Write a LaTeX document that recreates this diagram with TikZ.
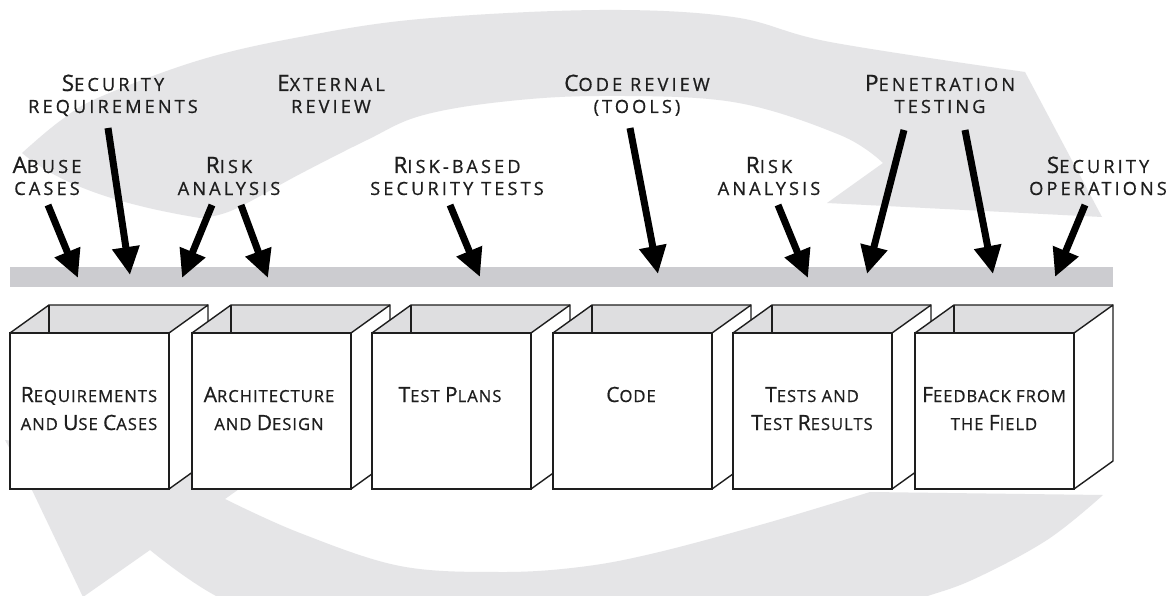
\documentclass[tikz,border=0pt]{standalone}
\usepackage{fontspec}
\usetikzlibrary{arrows.meta}
\newfontfamily\toplf[LetterSpace=17,FakeBold=0.7]{Open Sans}
\newfontfamily\boxlf[LetterSpace=6,FakeBold=0.7]{Open Sans}
\newcommand\Bg[1]{{\fontsize{21}{22}\selectfont #1}}
\newcommand\BG[1]{{\fontsize{22.6}{22}\selectfont #1}}
\newcommand\two[2]{\begin{tabular}[t]{@{}c@{}}#1\\#2\end{tabular}}
\definecolor{arcgrey}{RGB}{229,229,231}
\definecolor{bargrey}{RGB}{204,204,208}
\definecolor{opengrey}{RGB}{222,222,224}
\definecolor{txt}{RGB}{30,30,30}
\definecolor{edge}{RGB}{30,30,30}
\tikzset{
  toplbl/.style={inner sep=0pt, anchor=base, text=txt, font=\toplf\fontsize{18.2}{22}\selectfont},
  boxlbl/.style={inner sep=0pt, anchor=base, text=txt, font=\boxlf\fontsize{16.6}{28}\selectfont},
  arr/.style={draw=black, line width=7pt, -{Triangle[width=26pt,length=28pt]}},
  face/.style={draw=edge, fill=white, line width=1.4pt, rectangle, inner sep=0pt, minimum width=159pt, minimum height=156pt},
  sideface/.style={draw=edge, fill=white, line width=1.4pt, line join=round},
  opening/.style={fill=opengrey},
  boxline/.style={draw=edge, line width=1.4pt, line join=round},
  band/.style={fill=arcgrey},
  barstyle/.style={fill=bargrey, inner sep=0pt, minimum width=1103pt, minimum height=20pt}
}
\begin{document}
\begin{tikzpicture}[x=1pt,y=-1pt]
\useasboundingbox (0,0) rectangle (1166,596);
\clip (0,0) rectangle (1166,596);
\fill[white] (0,0) rectangle (1166,596);
% top circular arrow
\fill[band] (200,218) .. controls (120,205) and (60,185) .. (22,153)
  -- plot[smooth, tension=0.6] coordinates {(22,153) (60,121) (100,97) (200,60) (300,37) (420,19) (600,10) (733,17) (830,42) (1025,72)}
  -- (1102,217) -- (827,203)
  -- plot[smooth, tension=0.6] coordinates {(883,163) (840,135) (733,102) (600,96) (500,102) (420,116) (367,140) (300,174) (233,210) (200,218)}
  -- cycle;
% bottom circular arrow
\fill[band] (870,492) -- (1103,495)
  -- plot[smooth, tension=0.6] coordinates {(1103,495) (1047,540) (972,580) (916,600) (850,625) (700,652) (500,662) (330,640) (220,598) (150,550)}
  -- (83,597) -- (32,490) -- (5,440) -- (270,467) -- (225,499)
  -- plot[smooth, tension=0.6] coordinates {(225,499) (300,533) (400,566) (500,572) (580,567) (655,553) (767,523) (870,492)}
  -- cycle;
% bar
\node[barstyle] (bar) at (561.5,277) {};
% labels above
\node[toplbl] (abuse) at (47,173) {\two{\BG{A}BUSE}{CASES}};
\node[toplbl] (secreq) at (113,91) {\two{\BG{S}ECURITY}{REQUIREMENTS}};
\node[toplbl] (extrev) at (331,91) {\two{\BG{E}XTERNAL}{REVIEW}};
\node[toplbl] (risk1) at (229,173) {\two{\BG{R}ISK}{ANALYSIS}};
\node[toplbl] (rbst) at (457,173) {\two{\BG{R}ISK-BASED}{SECURITY TESTS}};
\node[toplbl] (codrev) at (637,91) {\two{\BG{C}ODE REVIEW}{(TOOLS)}};
\node[toplbl] (risk2) at (769,173) {\two{\BG{R}ISK}{ANALYSIS}};
\node[toplbl] (pentest) at (940,91) {\two{\BG{P}ENETRATION}{TESTING}};
\node[toplbl] (secops) at (1098,173) {\two{\BG{S}ECURITY}{OPERATIONS}};
% arrow end points
\coordinate (a1s) at (48,205);   \coordinate (a1e) at (78,278);
\coordinate (a2s) at (108,128);  \coordinate (a2e) at (130,275);
\coordinate (a3s) at (212,205);  \coordinate (a3e) at (182,278);
\coordinate (a4s) at (241,205);  \coordinate (a4e) at (268,278);
\coordinate (a5s) at (450,205);  \coordinate (a5e) at (480,277);
\coordinate (a6s) at (630,128);  \coordinate (a6e) at (658,274);
\coordinate (a7s) at (778,205);  \coordinate (a7e) at (808,278);
\coordinate (a8s) at (904,130);  \coordinate (a8e) at (867,274);
\coordinate (a9s) at (965,130);  \coordinate (a9e) at (993,274);
\coordinate (a10s) at (1085,205); \coordinate (a10e) at (1055,277);
\foreach \k in {1,...,10} { \draw[arr] (a\k s) -- (a\k e); }
% boxes
\foreach \x [count=\i] in {10,192,372,553,733,915} {
  \fill[opening] (\x,333) -- ++(39,-28) -- ++(159,0) -- ++(-39,28) -- cycle;
  \draw[boxline] (\x,333) -- ++(39,-28) -- ++(159,0);
  \draw[boxline] (\x+39,305) -- (\x+39,333);
  \filldraw[sideface] (\x+159,333) -- ++(39,-28) -- ++(0,156) -- ++(-39,28) -- cycle;
  \node[face] (f\i) at (\x+79.5,411) {};
}
% box labels
\node[boxlbl] (l1) at (89,402) {\two{\Bg{R}EQUIREMENTS}{AND \Bg{U}SE \Bg{C}ASES}};
\node[boxlbl] (l2) at (269,402) {\two{\Bg{A}RCHITECTURE}{AND \Bg{D}ESIGN}};
\node[boxlbl] (l3) at (450,402) {\Bg{T}EST \Bg{P}LANS};
\node[boxlbl] (l4) at (631,402) {\Bg{C}ODE};
\node[boxlbl] (l5) at (812,402) {\two{\Bg{T}ESTS AND}{\Bg{T}EST \Bg{R}ESULTS}};
\node[boxlbl] (l6) at (994,402) {\two{\Bg{F}EEDBACK FROM}{THE \Bg{F}IELD}};
\end{tikzpicture}
\end{document}
